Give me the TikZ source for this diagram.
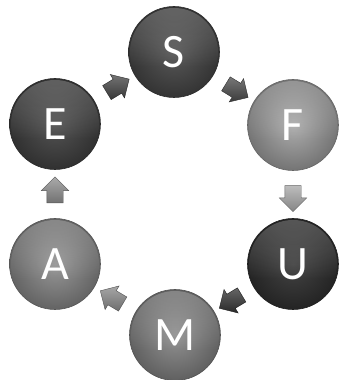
\documentclass[tikz,border=0pt]{standalone}
\usepackage{fontspec}
\setmainfont{Carlito}
\usetikzlibrary{shapes.arrows,fadings}
\definecolor{cS}{HTML}{4A4A4A}
\definecolor{cE}{HTML}{454545}
\definecolor{cF}{HTML}{A6A6A6}
\definecolor{cU}{HTML}{333333}
\definecolor{cM}{HTML}{898989}
\definecolor{cA}{HTML}{8E8E8E}
\tikzset{
  ball/.style={circle, minimum size=91pt, inner sep=0pt, text=white,
    font=\fontsize{48}{48}\selectfont,
    shading=radial, inner color=#1!92!white, outer color=#1!70!black,
    draw=#1!60!black, line width=0.6pt},
  blockarr/.style={single arrow, inner xsep=0pt, inner ysep=8pt,
    single arrow head extend=5.5pt, single arrow head indent=0pt,
    minimum height=26pt, sloped, allow upside down,
    top color=#1!75!white, bottom color=#1!80!black,
    draw=#1!60!black, line width=0.4pt},
  gloss/.style={fill=white, opacity=0.25, path fading=south},
  letter/.style={text=white, font=\fontsize{48}{48}\selectfont}
}
\begin{document}
\begin{tikzpicture}[x=1pt,y=1pt]
\useasboundingbox (0,0) rectangle (338,380);
\node[ball=cS] (S) at (174,328) {};
\node[ball=cE] (E) at (55,256) {};
\node[ball=cF] (F) at (293,255) {};
\node[ball=cU] (U) at (293,116) {};
\node[ball=cA] (A) at (55,116) {};
\node[ball=cM] (M) at (175,45) {};
\foreach \n in {S,E,F,U,A,M}{
  \begin{scope}
    \clip (\n) circle (44pt);
    \fill[gloss] ([shift={(-50pt,-15pt)}]\n.center) rectangle ([shift={(50pt,50pt)}]\n.center);
  \end{scope}
}
\node[letter] (tS) at (S) {S};
\node[letter] (tE) at (E) {E};
\node[letter] (tF) at (F) {F};
\node[letter] (tU) at (U) {U};
\node[letter] (tA) at (A) {A};
\node[letter] (tM) at (M) {M};
\path (E) -- (S) node[midway, blockarr=cE] (a1) {};
\path (S) -- (F) node[midway, blockarr=cS] (a2) {};
\path (F) -- (U) node[midway, blockarr=cF] (a3) {};
\path (U) -- (M) node[midway, blockarr=cU] (a4) {};
\path (M) -- (A) node[midway, blockarr=cM] (a5) {};
\path (A) -- (E) node[midway, blockarr=cA] (a6) {};
\end{tikzpicture}
\end{document}
